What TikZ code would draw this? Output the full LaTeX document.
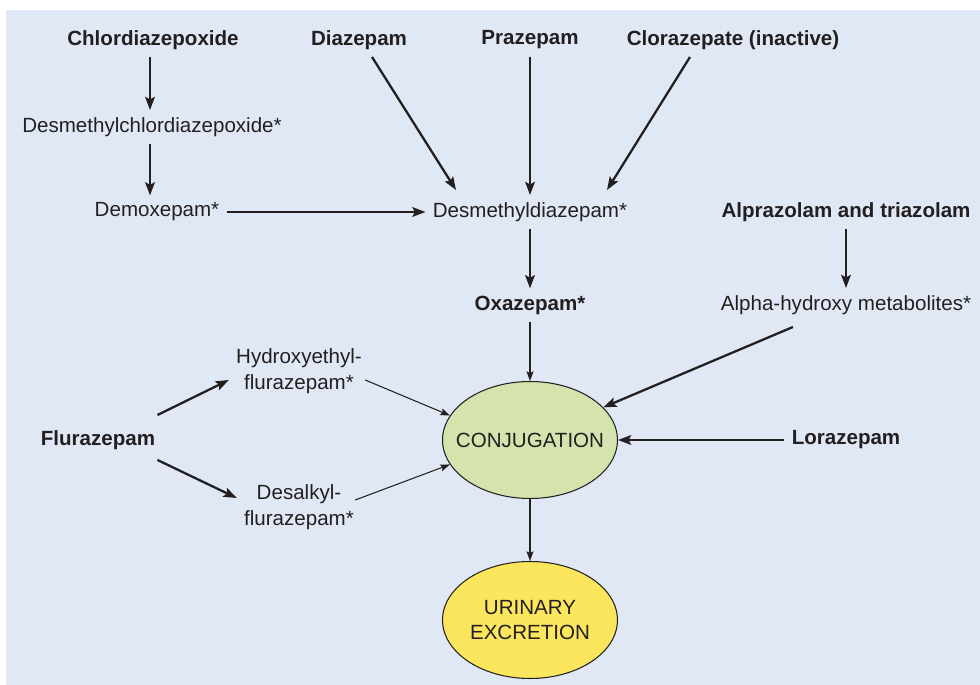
\documentclass[tikz,border=0pt]{standalone}
\usepackage{fontspec}
\setmainfont{Liberation Sans}
\usepackage{xcolor}
\usetikzlibrary{arrows.meta,positioning,calc,shapes.geometric}
\definecolor{ink}{HTML}{231F20}
\definecolor{panel}{HTML}{E1E8F5}
\definecolor{conjfill}{HTML}{D5E4AE}
\definecolor{urinefill}{HTML}{FCE65E}
\tikzset{
  drug/.style={font=\fontsize{11.7}{14.7}\selectfont\bfseries,text=ink,inner sep=4pt},
  metab/.style={font=\fontsize{11.7}{14.7}\selectfont,text=ink,inner sep=4pt,align=center},
  blob/.style={ellipse,draw=ink,line width=0.6pt,minimum width=3.5cm,minimum height=2.34cm,
    inner sep=0pt,label={[font=\fontsize{11.7}{14.7}\selectfont,text=ink,align=center]center:#1}},
  arr/.style={-{Stealth[length=7.5pt,width=5.5pt,inset=1.5pt]},line width=1.3pt,draw=ink},
  thinarr/.style={-{Stealth[length=5.5pt,width=4pt,inset=1pt]},line width=0.6pt,draw=ink}
}

\begin{document}
\begin{tikzpicture}[x=0.02cm,y=-0.02cm]
\useasboundingbox (0,0) rectangle (980,685);
\fill[panel] (6,10) rectangle (980,685);

\node[drug] (chl) at (153,40) {Chlordiazepoxide};
\node[metab] (dmc) at (152,127) {Desmethylchlordiazepoxide*};
\node[metab] (dem) at (157,212) {Demoxepam*};
\node[drug] (diaz) at (359,40) {Diazepam};
\node[drug] (praz) at (530,40) {Prazepam};
\node[drug] (cloz) at (733,40) {Clorazepate (inactive)};
\node[metab] (dmd) at (530,212) {Desmethyldiazepam*};
\node[drug] (alp) at (846,212) {Alprazolam and triazolam};
\node[drug] (oxa) at (530,305) {Oxazepam*};
\node[metab] (alpha) at (846,305) {Alpha-hydroxy metabolites*};
\node[metab] (hyd) at (299,371) {Hydroxyethyl-\\flurazepam*};
\node[drug] (flu) at (98,440) {Flurazepam};
\node[metab] (des) at (299,507) {Desalkyl-\\flurazepam*};
\node[blob={CONJUGATION}, fill=conjfill] (conj) at (530,440) {};
\node[drug] (lor) at (846,440) {Lorazepam};
\node[blob={URINARY\\EXCRETION}, fill=urinefill] (uri) at (530,620) {};
\coordinate (spine) at (150,0);

\draw[arr] (chl.south -| spine) -- (dmc.north -| spine);
\draw[arr] (dmc.south -| spine) -- (dem.north -| spine);
\draw[arr] (dem.east) -- (dmd.west);
\draw[arr] ($(diaz.south)+(13,0)$) -- ($(dmd.north)+(-74,-5)$);
\draw[arr] (praz) -- (dmd);
\draw[arr] ($(cloz.south)+(-43,0)$) -- ($(dmd.north)+(77,-5)$);
\draw[arr] (dmd) -- (oxa);
\draw[arr] (alp) -- (alpha);
\draw[thinarr] (oxa) -- (conj);
\draw[arr] ($(alpha.south)+(-53,5)$) -- (conj.24);
\draw[arr] (lor.west) -- (conj.east);
\draw[arr] ($(flu.east)+(-5,-25)$) -- ($(hyd.west)+(0,9)$);
\draw[arr] ($(flu.east)+(-5,20)$) -- ($(des.west)+(0,-9)$);
\draw[thinarr] ($(hyd.east)+(-4,9)$) -- (conj.163);
\draw[thinarr] ($(des.east)+(-6,-7)$) -- (conj.197);
\draw[thinarr] (conj) -- (uri);
\end{tikzpicture}
\end{document}
